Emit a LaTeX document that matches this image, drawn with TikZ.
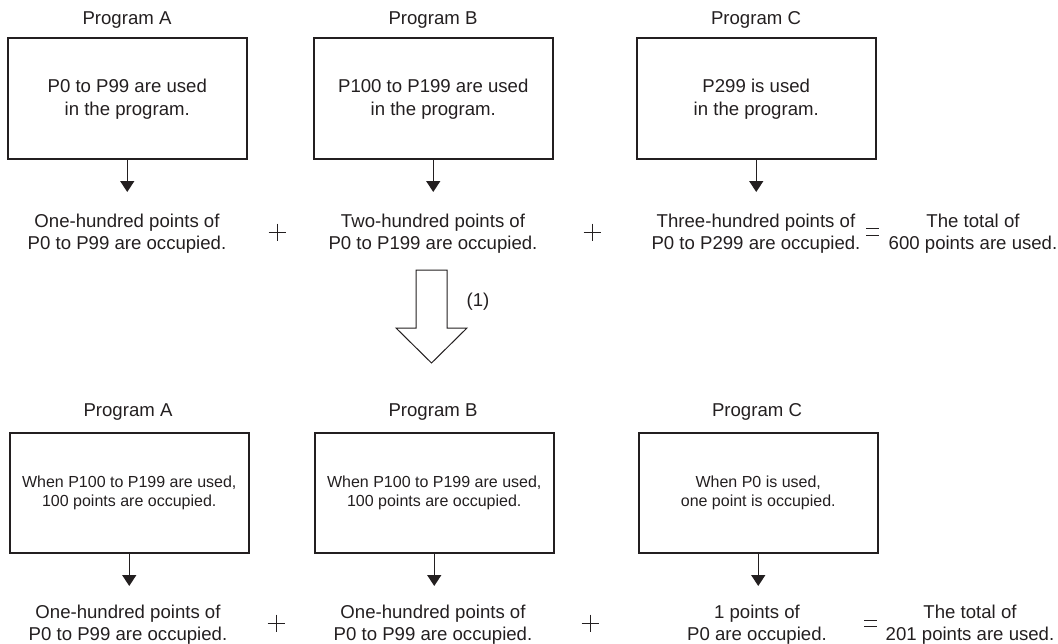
\documentclass[tikz,border=0pt]{standalone}
\usepackage{fontspec}
\setmainfont{Liberation Sans}
\usetikzlibrary{arrows.meta}
\definecolor{ink}{RGB}{35,31,32}
\tikzset{
  prog/.style={draw=ink, line width=1.5pt, minimum width=239pt, minimum height=121pt, inner sep=0pt, anchor=north west},
  boxtxt/.style={align=center, text=ink, font=\fontsize{18.6pt}{23pt}\selectfont},
  smalltxt/.style={align=center, text=ink, font=\fontsize{16pt}{19.5pt}\selectfont},
  title/.style={text=ink, font=\fontsize{18.6pt}{22pt}\selectfont},
  lbl/.style={align=center, text=ink, font=\fontsize{18.6pt}{22pt}\selectfont},
  flow/.style={draw=ink, line width=1.5pt, -{Triangle[width=14pt,length=11pt]}},
  opsign/.style={draw=ink, line width=0.9pt},
}
\begin{document}
\begin{tikzpicture}[x=1pt,y=-1pt]
\useasboundingbox (0,0) rectangle (1058,643);
% ---------- top row ----------
\node[title] (tA) at (127,20) {Program A};
\node[title] (tB) at (433,20) {Program B};
\node[title] (tC) at (756,20) {Program C};
\node[prog] (bA) at (7,37) {};
\node[prog] (bB) at (313,37) {};
\node[prog] (bC) at (636,37) {};
\node[boxtxt] (xA) at ([yshift=-1pt]bA.center) {P0 to P99 are used\\in the program.};
\node[boxtxt] (xB) at ([yshift=-1pt]bB.center) {P100 to P199 are used\\in the program.};
\node[boxtxt] (xC) at ([yshift=-1pt]bC.center) {P299 is used\\in the program.};
\coordinate (eA) at (bA.south |- 0,192);
\coordinate (eB) at (bB.south |- 0,192);
\coordinate (eC) at (bC.south |- 0,192);
\draw[flow] (bA.south) -- (eA);
\draw[flow] (bB.south) -- (eB);
\draw[flow] (bC.south) -- (eC);
\node[lbl] (lA) at (127,234) {One-hundred points of\\P0 to P99 are occupied.};
\node[lbl] (lB) at (433,234) {Two-hundred points of\\P0 to P199 are occupied.};
\node[lbl] (lC) at (756,234) {Three-hundred points of\\P0 to P299 are occupied.};
\node[lbl] (lT) at (973,234) {The total of\\600 points are used.};
% plus / equals
\draw[opsign] (268.5,232) -- (285.5,232) (277,223.5) -- (277,240.5);
\draw[opsign] (583.5,232) -- (600.5,232) (592,223.5) -- (592,240.5);
\draw[opsign] (866,228.5) -- (879,228.5) (866,235) -- (879,235);
% ---------- big hollow arrow ----------
\draw[draw=ink, line width=1pt, line join=miter, fill=white]
  (416,270) -- (447,270) -- (447,328) -- (467,328) -- (431.5,363) -- (396,328) -- (416,328) -- cycle;
\node[title] (one) at (478,302) {(1)};
% ---------- bottom row ----------
\node[title] (tA2) at (128,412) {Program A};
\node[title] (tB2) at (433,412) {Program B};
\node[title] (tC2) at (757,412) {Program C};
\node[prog, minimum height=120pt] (cA) at (9,432) {};
\node[prog, minimum height=120pt] (cB) at (314,432) {};
\node[prog, minimum height=120pt] (cC) at (638,432) {};
\node[smalltxt] (yA) at (cA.center) {When P100 to P199 are used,\\100 points are occupied.};
\node[smalltxt] (yB) at (cB.center) {When P100 to P199 are used,\\100 points are occupied.};
\node[smalltxt] (yC) at (cC.center) {When P0 is used,\\one point is occupied.};
\coordinate (fA) at (cA.south |- 0,586);
\coordinate (fB) at (cB.south |- 0,586);
\coordinate (fC) at (cC.south |- 0,586);
\draw[flow] (cA.south) -- (fA);
\draw[flow] (cB.south) -- (fB);
\draw[flow] (cC.south) -- (fC);
\node[lbl] (mA) at (128,625) {One-hundred points of\\P0 to P99 are occupied.};
\node[lbl] (mB) at (433,625) {One-hundred points of\\P0 to P99 are occupied.};
\node[lbl] (mC) at (757,625) {1 points of\\P0 are occupied.};
\node[lbl] (mT) at (970,625) {The total of\\201 points are used.};
\draw[opsign] (267.5,623) -- (284.5,623) (276,614.5) -- (276,631.5);
\draw[opsign] (581.5,623) -- (598.5,623) (590,614.5) -- (590,631.5);
\draw[opsign] (864,620) -- (877,620) (864,626.5) -- (877,626.5);
\end{tikzpicture}
\end{document}
